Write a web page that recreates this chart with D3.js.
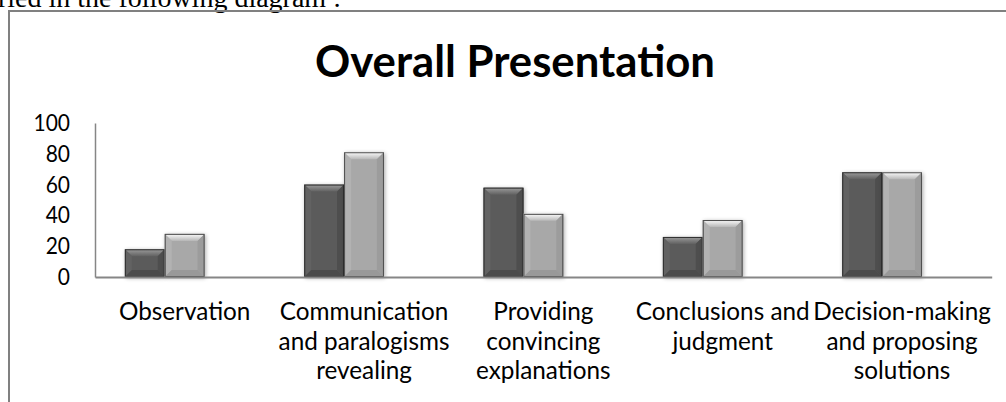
<!DOCTYPE html>
<html>
<head>
<meta charset="utf-8">
<script src="https://cdn.jsdelivr.net/npm/d3@7"></script>
<style>
  body { margin: 0; background: #fff; }
  svg { display: block; }
</style>
</head>
<body>
<div id="chart"></div>
<script>
// chart data
var categories = ["Observation", "Communication and paralogisms revealing", "Providing convincing explanations",
  "Conclusions and judgment", "Decision-making and proposing solutions"];
var categoryLines = [["Observation"], ["Communication", "and paralogisms", "revealing"],
  ["Providing", "convincing", "explanations"], ["Conclusions and", "judgment"],
  ["Decision-making", "and proposing", "solutions"]];
var seriesNames = ["Series1", "Series2", "Series3"];
var series1 = [18, 60, 58, 26, 68];
var series2 = [28, 81, 41, 37, 68];
var series3 = [null, null, null, null, null];   // empty series, still keeps its slot
var yTicks = [0, 20, 40, 60, 80, 100];
var titleText = "Overall Presentation";
var captionText = "ried in the following diagram :";

var width = 1006, height = 402;

var svg = d3.select("#chart").append("svg")
  .attr("width", width)
  .attr("height", height);

var defs = svg.append("defs");

// soft shadow under the bars
var shadow = defs.append("filter").attr("id", "barShadow")
  .attr("x", "-20%").attr("y", "-20%").attr("width", "140%").attr("height", "140%");
shadow.append("feGaussianBlur").attr("stdDeviation", 2);

var palettes = [
  {face: "#5b5b5b", topA: "#9c9c9c", topB: "#616161", left: "#626262", right: "#4e4e4e", bottom: "#4b4b4b", edge: "#2f2f2f"},
  {face: "#a8a8a8", topA: "#fcfcfc", topB: "#b7b7b7", left: "#b2b2b2", right: "#9c9c9c", bottom: "#999999", edge: "#4d4d4d"}
];
palettes.forEach(function(p, i) {
  var g = defs.append("linearGradient").attr("id", "top" + i)
    .attr("x1", 0).attr("y1", 0).attr("x2", 0).attr("y2", 1);
  g.append("stop").attr("offset", "0%").attr("stop-color", p.topA);
  g.append("stop").attr("offset", "100%").attr("stop-color", p.topB);
});

// cut-off line of the surrounding document
svg.append("text")
  .attr("x", -2)
  .attr("y", 7)
  .attr("font-family", "Liberation Serif, serif")
  .attr("font-size", 28)
  .attr("fill", "#000")
  .text(captionText);

// frame of the chart
svg.append("path")
  .attr("d", "M9," + height + "V11H" + width)
  .attr("fill", "none")
  .attr("stroke", "#808080")
  .attr("stroke-width", 2);

svg.append("text")
  .attr("x", 515)
  .attr("y", 77)
  .attr("text-anchor", "middle")
  .attr("font-family", "Lato, sans-serif")
  .attr("font-weight", "bold")
  .attr("font-size", 43.7)
  .attr("fill", "#000")
  .text(titleText);

// scales
var x0 = d3.scaleBand().domain(categories).range([95, 991.7]);
var x1 = d3.scaleBand().domain(seriesNames).range([0, x0.bandwidth()]).paddingOuter(0.75);
var y = d3.scaleLinear().domain([0, 100]).range([277, 123]);

// y axis
var yAxis = svg.append("g")
  .attr("transform", "translate(95,0)")
  .call(d3.axisLeft(y).tickValues(yTicks).tickSize(0).tickPadding(25).tickSizeOuter(0));
yAxis.select(".domain").attr("stroke", "#868686").attr("stroke-width", 1.5);
yAxis.selectAll("text")
  .attr("font-family", "Lato, sans-serif")
  .attr("font-size", 21)
  .attr("fill", "#000")
  .attr("transform", "scale(1,1.1)");

// bars
var rows = categories.map(function(c, i) {
  return {cat: c, values: [series1[i], series2[i], series3[i]]};
});

var groups = svg.append("g").selectAll("g")
  .data(rows)
  .enter().append("g")
  .attr("transform", function(d) { return "translate(" + x0(d.cat) + ",0)"; });

groups.each(function(d) {
  var g = d3.select(this);
  d.values.forEach(function(v, si) {
    if (v == null) return;
    var p = palettes[si];
    var bx = x1(seriesNames[si]), bw = x1.bandwidth();
    var top = y(v), bh = y(0) - top;
    var b = Math.min(7, bh / 2, bw / 2);
    var bar = g.append("g");
    bar.append("rect")
      .attr("x", bx + 1).attr("y", top + 1)
      .attr("width", bw).attr("height", bh)
      .attr("fill", "#000").attr("opacity", 0.35)
      .attr("filter", "url(#barShadow)");
    bar.append("rect")
      .attr("x", bx).attr("y", top)
      .attr("width", bw).attr("height", bh)
      .attr("fill", p.face);
    // bevel faces
    var x2 = bx + bw, yb = top + bh;
    bar.append("polygon")
      .attr("points", [[bx, top], [x2, top], [x2 - b, top + b], [bx + b, top + b]].join(" "))
      .attr("fill", "url(#top" + si + ")");
    bar.append("polygon")
      .attr("points", [[bx, top], [bx + b, top + b], [bx + b, yb - b], [bx, yb]].join(" "))
      .attr("fill", p.left);
    bar.append("polygon")
      .attr("points", [[x2, top], [x2, yb], [x2 - b, yb - b], [x2 - b, top + b]].join(" "))
      .attr("fill", p.right);
    bar.append("polygon")
      .attr("points", [[bx, yb], [bx + b, yb - b], [x2 - b, yb - b], [x2, yb]].join(" "))
      .attr("fill", p.bottom);
    bar.append("rect")
      .attr("x", bx + 0.5).attr("y", top + 0.5)
      .attr("width", bw - 1).attr("height", bh - 1)
      .attr("fill", "none")
      .attr("stroke", p.edge)
      .attr("stroke-width", 1);
  });
});

// x axis with wrapped labels
var xAxis = svg.append("g")
  .attr("transform", "translate(0,277)")
  .call(d3.axisBottom(x0).tickSize(0).tickSizeOuter(0).tickFormat(""));
xAxis.select(".domain").attr("stroke", "#868686").attr("stroke-width", 2);

xAxis.selectAll(".tick").each(function(d, i) {
  var t = d3.select(this);
  categoryLines[i].forEach(function(line, j) {
    t.append("text")
      .attr("y", 43 + j * 29.5)
      .attr("text-anchor", "middle")
      .attr("font-family", "Lato, sans-serif")
      .attr("font-size", 24.3)
      .attr("fill", "#000")
      .text(line);
  });
});
</script>
</body>
</html>
